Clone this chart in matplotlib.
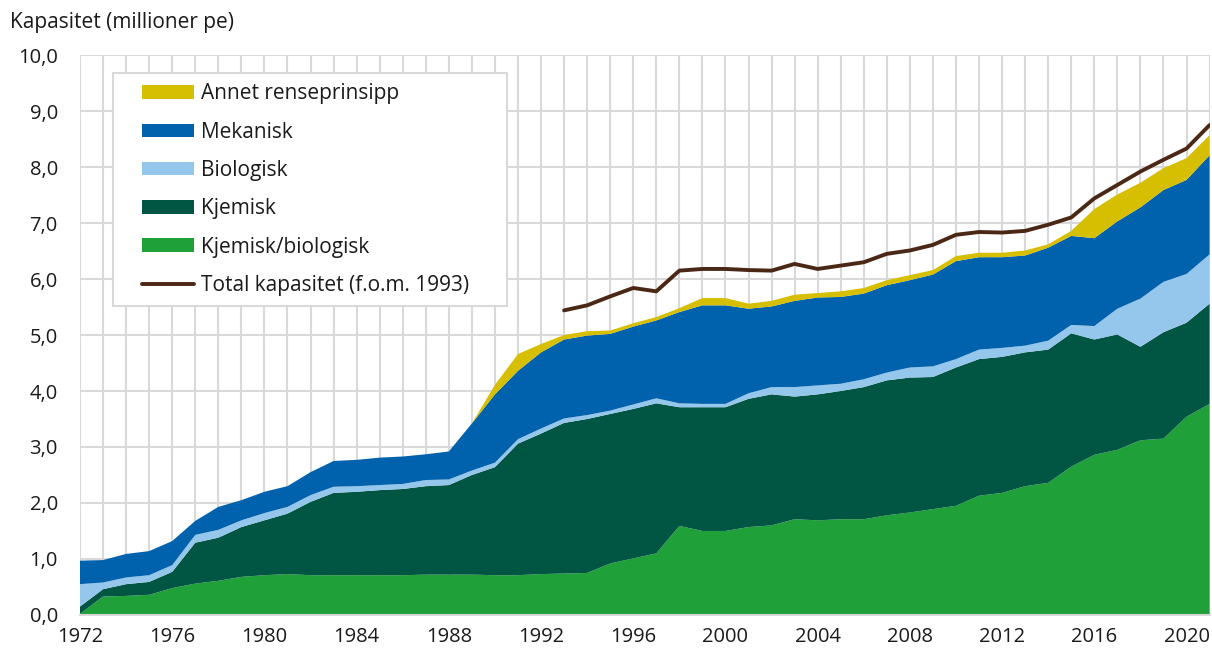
import numpy as np
import matplotlib
matplotlib.use("Agg")
import matplotlib.pyplot as plt
from matplotlib.ticker import FuncFormatter, MultipleLocator
from matplotlib.patches import Patch, Rectangle
from matplotlib.lines import Line2D
from matplotlib.legend_handler import HandlerPatch, HandlerLine2D

plt.rcParams['font.family'] = ['Open Sans', 'DejaVu Sans']

years = list(range(1972, 2022))

# million pe (layer thickness, bottom to top)
kjem_bio = [0.02, 0.33, 0.34, 0.36, 0.48, 0.56, 0.61, 0.68, 0.71, 0.73,
            0.71, 0.71, 0.71, 0.71, 0.71, 0.72, 0.72, 0.72, 0.71, 0.71,
            0.73, 0.74, 0.75, 0.92, 1.01, 1.10, 1.59, 1.50, 1.50, 1.57,
            1.60, 1.71, 1.69, 1.71, 1.71, 1.78, 1.83, 1.89, 1.95, 2.13,
            2.18, 2.30, 2.36, 2.65, 2.86, 2.95, 3.12, 3.15, 3.54, 3.77]
kjemisk = [0.13, 0.13, 0.21, 0.23, 0.29, 0.73, 0.77, 0.89, 0.98, 1.08,
           1.31, 1.47, 1.49, 1.52, 1.54, 1.58, 1.60, 1.78, 1.93, 2.35,
           2.51, 2.69, 2.75, 2.67, 2.67, 2.68, 2.12, 2.21, 2.21, 2.29,
           2.34, 2.19, 2.25, 2.29, 2.36, 2.41, 2.41, 2.36, 2.47, 2.44,
           2.43, 2.39, 2.38, 2.38, 2.06, 2.06, 1.67, 1.90, 1.68, 1.79]
biologisk = [0.40, 0.12, 0.12, 0.12, 0.12, 0.14, 0.14, 0.12, 0.13, 0.12,
             0.12, 0.11, 0.10, 0.09, 0.09, 0.11, 0.10, 0.08, 0.08, 0.08,
             0.09, 0.08, 0.07, 0.06, 0.08, 0.09, 0.07, 0.06, 0.06, 0.10,
             0.13, 0.17, 0.16, 0.13, 0.14, 0.14, 0.18, 0.19, 0.15, 0.17,
             0.16, 0.12, 0.16, 0.15, 0.24, 0.46, 0.86, 0.90, 0.87, 0.88]
mekanisk = [0.42, 0.40, 0.42, 0.43, 0.43, 0.25, 0.41, 0.36, 0.38, 0.37,
            0.41, 0.46, 0.47, 0.49, 0.49, 0.46, 0.50, 0.84, 1.22, 1.22,
            1.36, 1.41, 1.42, 1.37, 1.39, 1.39, 1.63, 1.76, 1.76, 1.51,
            1.44, 1.54, 1.57, 1.55, 1.53, 1.56, 1.56, 1.64, 1.75, 1.65,
            1.62, 1.61, 1.66, 1.59, 1.57, 1.56, 1.63, 1.64, 1.68, 1.77]
annet = [0.0] * 17 + [0.00, 0.17, 0.30,
         0.15, 0.08, 0.08, 0.06, 0.06, 0.06, 0.07, 0.13, 0.13, 0.09,
         0.10, 0.11, 0.08, 0.10, 0.10, 0.09, 0.09, 0.08, 0.09, 0.08,
         0.08, 0.09, 0.06, 0.09, 0.52, 0.48, 0.44, 0.39, 0.39, 0.36]

total_years = list(range(1993, 2022))
total = [5.44, 5.53, 5.69, 5.84, 5.78, 6.15, 6.18, 6.18, 6.16, 6.15,
         6.27, 6.18, 6.24, 6.30, 6.45, 6.51, 6.61, 6.79, 6.84, 6.83,
         6.86, 6.97, 7.10, 7.44, 7.68, 7.92, 8.13, 8.33, 8.75]

labels = ['Kjemisk/biologisk', 'Kjemisk', 'Biologisk', 'Mekanisk', 'Annet renseprinsipp']
colors = ['#20a038', '#015643', '#95c6eb', '#0062ad', '#d6be00']
line_color = '#4b2816'
grid_color = '#d9d9d9'
text_color = '#1a1a1a'

# legend handles sit a bit in from the frame, like the original
OFFSET = 0.27  # fraction of handle box left empty


class OffsetPatch(HandlerPatch):
    def create_artists(self, legend, orig_handle, xdescent, ydescent,
                       width, height, fontsize, trans):
        x0 = -xdescent + width * OFFSET
        p = Rectangle((x0, -ydescent), width * (1 - OFFSET), height,
                      facecolor=orig_handle.get_facecolor(), edgecolor='none',
                      transform=trans)
        return [p]


class OffsetLine(HandlerLine2D):
    def create_artists(self, legend, orig_handle, xdescent, ydescent,
                       width, height, fontsize, trans):
        y = height / 2 - ydescent
        x0 = -xdescent + width * OFFSET
        ln = Line2D([x0, -xdescent + width], [y, y], color=orig_handle.get_color(),
                    linewidth=orig_handle.get_linewidth(), solid_capstyle='round',
                    transform=trans)
        return [ln]


fig = plt.figure(figsize=(12.12, 6.48), dpi=100, facecolor='white')
ax = fig.add_axes([0.066, 0.051, 0.932, 0.864])

ax.stackplot(years, kjem_bio, kjemisk, biologisk, mekanisk, annet,
             colors=colors, linewidth=0, zorder=2)
ax.plot(total_years, total, color=line_color, linewidth=2.8,
        solid_capstyle='round', zorder=3)

ax.set_xlim(1972, 2021)
ax.set_ylim(0, 10)
ax.xaxis.set_major_locator(MultipleLocator(4))
ax.xaxis.set_minor_locator(MultipleLocator(1))
ax.yaxis.set_major_locator(MultipleLocator(1))
ax.yaxis.set_major_formatter(FuncFormatter(lambda v, p: f"{v:.1f}".replace('.', ',')))
ax.grid(True, which='both', axis='x', color=grid_color, linewidth=1.5, zorder=0)
ax.grid(True, which='major', axis='y', color=grid_color, linewidth=1.5, zorder=0)
ax.set_axisbelow(True)

for s in ['top', 'right', 'left']:
    ax.spines[s].set_visible(False)
ax.spines['bottom'].set_color(grid_color)
ax.spines['bottom'].set_linewidth(1.5)
ax.tick_params(axis='both', which='both', length=0, labelsize=14.5, colors=text_color)
ax.tick_params(axis='y', pad=16)
ax.tick_params(axis='x', pad=9)

fig.text(0.008, 0.966, 'Kapasitet (millioner pe)', fontsize=15, color=text_color,
         ha='left', va='center')

handles = [Patch(facecolor=colors[i], edgecolor='none', label=labels[i]) for i in [4, 3, 2, 1, 0]]
handles.append(Line2D([0], [0], color=line_color, linewidth=2.8,
                      label='Total kapasitet (f.o.m. 1993)     '))
leg = ax.legend(handles=handles, loc='upper left', bbox_to_anchor=(0.029, 0.968),
                fontsize=15, frameon=True, fancybox=False, framealpha=1,
                edgecolor=grid_color, handlelength=3.4, handleheight=0.62,
                handletextpad=0.35, labelspacing=0.83, borderpad=0.5,
                borderaxespad=0, labelcolor=text_color,
                handler_map={Patch: OffsetPatch(), Line2D: OffsetLine()})
leg.get_frame().set_linewidth(1.5)
leg.set_zorder(5)

fig.savefig('out.png', dpi=100, facecolor='white')
